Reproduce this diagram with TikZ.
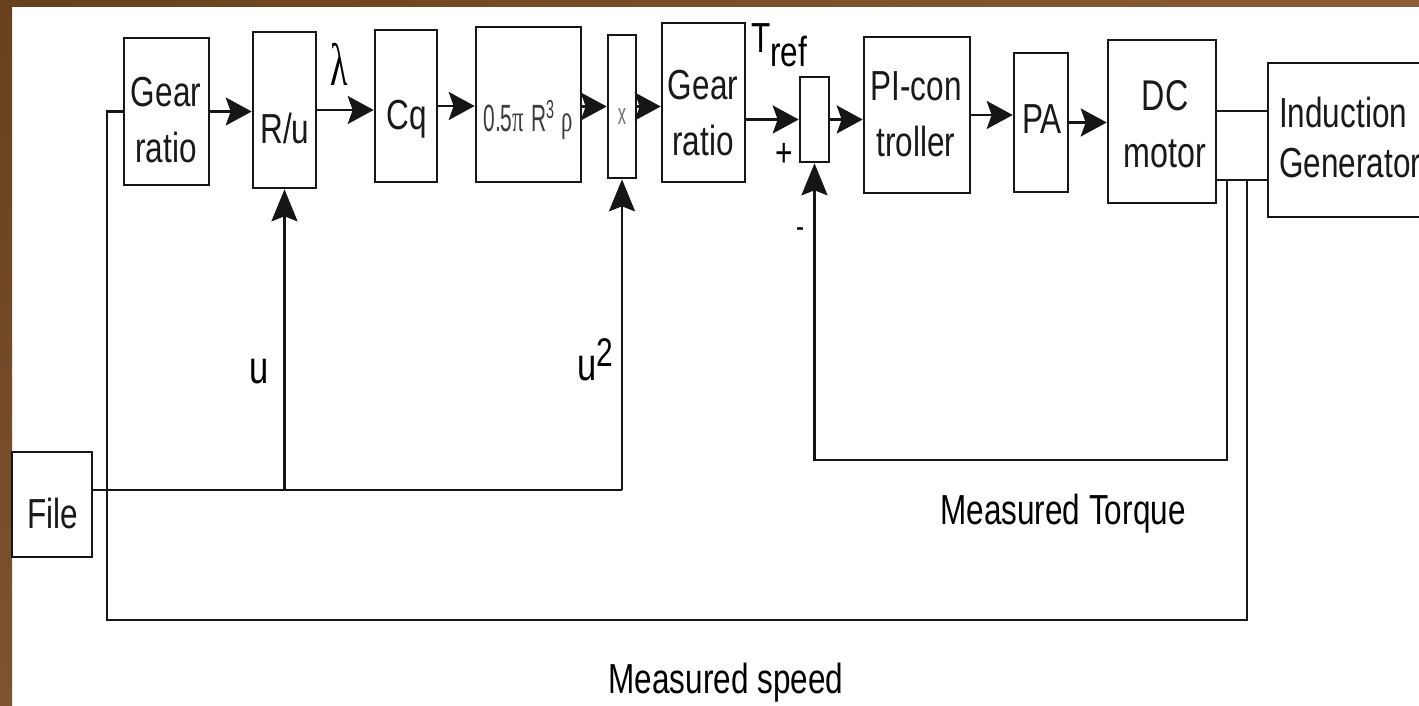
\documentclass[tikz,border=0pt]{standalone}
\usepackage{fontspec}
\setmainfont{Liberation Sans}[FakeStretch=0.75]
\newfontfamily\narrowfnt{Liberation Sans}[FakeStretch=0.55]
\newfontfamily\greekfnt{Liberation Serif}[FakeStretch=0.6]
\usetikzlibrary{arrows.meta}
\definecolor{bandA}{RGB}{104,64,30}
\definecolor{bandB}{RGB}{140,92,52}
\definecolor{linecol}{RGB}{22,22,22}
\definecolor{graytxt}{RGB}{60,60,60}
\begin{document}
\begin{tikzpicture}[x=1pt,y=-1pt,
  blk/.style={draw=linecol,line width=2.6pt,inner sep=0pt},
  txt/.style={inner sep=0pt,text depth=0pt,align=center,font=\fontsize{42}{56}\selectfont,text=black!90},
  wire/.style={draw=linecol,line width=2.6pt},
  harr/.style={wire,-{Stealth[length=26pt,width=28pt,inset=5pt]}},
  varr/.style={wire,-{Stealth[length=32pt,width=26pt,inset=5pt]}}]
\useasboundingbox (0,0) rectangle (1419,706);
\fill[white] (0,0) rectangle (1419,706);
\shade[left color=bandA,right color=bandB] (0,0) rectangle (1419,7);
\shade[top color=bandA,bottom color=bandB!90!black] (0,0) rectangle (12,706);

% blocks
\node[blk,minimum width=85pt,minimum height=147pt] (gr1) at (166.5,111.5) {};
\node[blk,minimum width=63pt,minimum height=156pt] (ru) at (284.5,110) {};
\node[blk,minimum width=62pt,minimum height=152pt] (cq) at (406,106) {};
\node[blk,minimum width=105pt,minimum height=155pt] (pw) at (528.5,104.5) {};
\node[blk,minimum width=28pt,minimum height=143pt] (mul) at (622,106.5) {};
\node[blk,minimum width=83pt,minimum height=159pt] (gr2) at (703.5,102.5) {};
\node[blk,minimum width=29pt,minimum height=85pt] (sum) at (814.5,119.5) {};
\node[blk,minimum width=106pt,minimum height=156pt] (pi) at (917,115) {};
\node[blk,minimum width=54pt,minimum height=139pt] (pa) at (1041,122.5) {};
\node[blk,minimum width=108pt,minimum height=163pt] (dc) at (1162,121.5) {};
\node[blk,minimum width=172pt,minimum height=154pt] (ig) at (1354,140) {};
\node[blk,minimum width=80pt,minimum height=105pt] (file) at (52,504.5) {};

% block texts
\node[txt] (gr1t) at (166,120) {Gear\\ratio};
\node[txt] (rut) at (285,128) {R/u};
\node[txt] (cqt) at (407,115) {Cq};
\node[txt,text=graytxt] (pwt) at (528,116) {{\narrowfnt\fontsize{38}{38}\selectfont 0.5}{\greekfnt\fontsize{38}{38}\selectfont π}\,{\narrowfnt\fontsize{38}{38}\selectfont R}\raisebox{13pt}{\narrowfnt\fontsize{26}{26}\selectfont 3}\,{\greekfnt\fontsize{38}{38}\selectfont ρ}};
\node[txt,text=black!55] (mult) at (622,117) {\narrowfnt\fontsize{30}{30}\selectfont x};
\node[txt] (gr2t) at (703,113) {Gear\\ratio};
\node[txt] (pit) at (916,114) {PI-con\\troller};
\node[txt] (pat) at (1042,119) {PA};
\node[txt,font=\fontsize{43}{57}\selectfont] (dct) at (1165,124) {DC\\motor};
\node[txt,anchor=west,align=left,font=\fontsize{42}{50}\selectfont] (igt) at (1279,137) {Induction\\Generator};
\node[txt] (filet) at (53,513) {File};

% forward path
\draw[harr] (gr1.east) -- (gr1.east -| ru.west);
\draw[harr] (ru.east) -- (ru.east -| cq.west);
\draw[harr] (cq.east) -- (cq.east -| pw.west);
\draw[harr] (mul.west -| pw.east) -- (mul.west);
\draw[harr] (mul.east) -- (mul.east -| gr2.west);
\draw[harr] (sum.west -| gr2.east) -- (sum.west);
\draw[harr] (sum.east) -- (sum.east -| pi.west);
\draw[harr] (pi.east) -- (pi.east -| pa.west);
\draw[harr] (pa.east) -- (pa.east -| dc.west);

% shaft lines
\coordinate (dcA) at ([yshift=10.5pt]dc.east);
\coordinate (dcB) at ([yshift=-58.5pt]dc.east);
\draw[wire] (dcA) -- (dcA -| ig.west);
\draw[wire] (dcB) -- (dcB -| ig.west);

% torque feedback
\coordinate (tqTop) at (1227,180);
\coordinate (tqBot) at (1227,460);
\draw[varr] (tqTop) -- (tqBot) -| (sum.south);

% speed feedback
\coordinate (spTop) at (1247,180);
\coordinate (spBL) at (107,620);
\draw[wire] (spTop) |- (spBL) |- (gr1.west);

% file signals
\coordinate (fl) at ([yshift=14.5pt]file.east);
\draw[wire] (fl) -- (fl -| mul.south);
\draw[varr] (fl -| ru.south) -- (ru.south);
\draw[varr] (fl -| mul.south) -- (mul.south);

% labels
\node[inner sep=0pt,anchor=base,font=\greekfnt\fontsize{60}{60}\selectfont] (lam) at (339,86) {λ};
\node[inner sep=0pt,anchor=base west,font=\fontsize{42}{42}\selectfont] (tref) at (751,53) {T\raisebox{-14pt}{ref}};
\node[inner sep=0pt,font=\fontsize{40}{40}\selectfont] (plus) at (784,155) {+};
\node[inner sep=0pt,font=\fontsize{32}{32}\selectfont] (minus) at (800,233) {-};
\node[inner sep=0pt,anchor=base,font=\fontsize{46}{46}\selectfont] (ul) at (259,383) {u};
\node[inner sep=0pt,anchor=base west,font=\fontsize{46}{46}\selectfont] (u2l) at (577,380) {u\raisebox{14pt}{\fontsize{40}{40}\selectfont 2}};
\node[inner sep=0pt,anchor=base,font=\fontsize{42}{42}\selectfont] (mtq) at (1063,524) {Measured Torque};
\node[inner sep=0pt,anchor=base,font=\fontsize{42}{42}\selectfont] (msp) at (726,693) {Measured speed};
\end{tikzpicture}
\end{document}
